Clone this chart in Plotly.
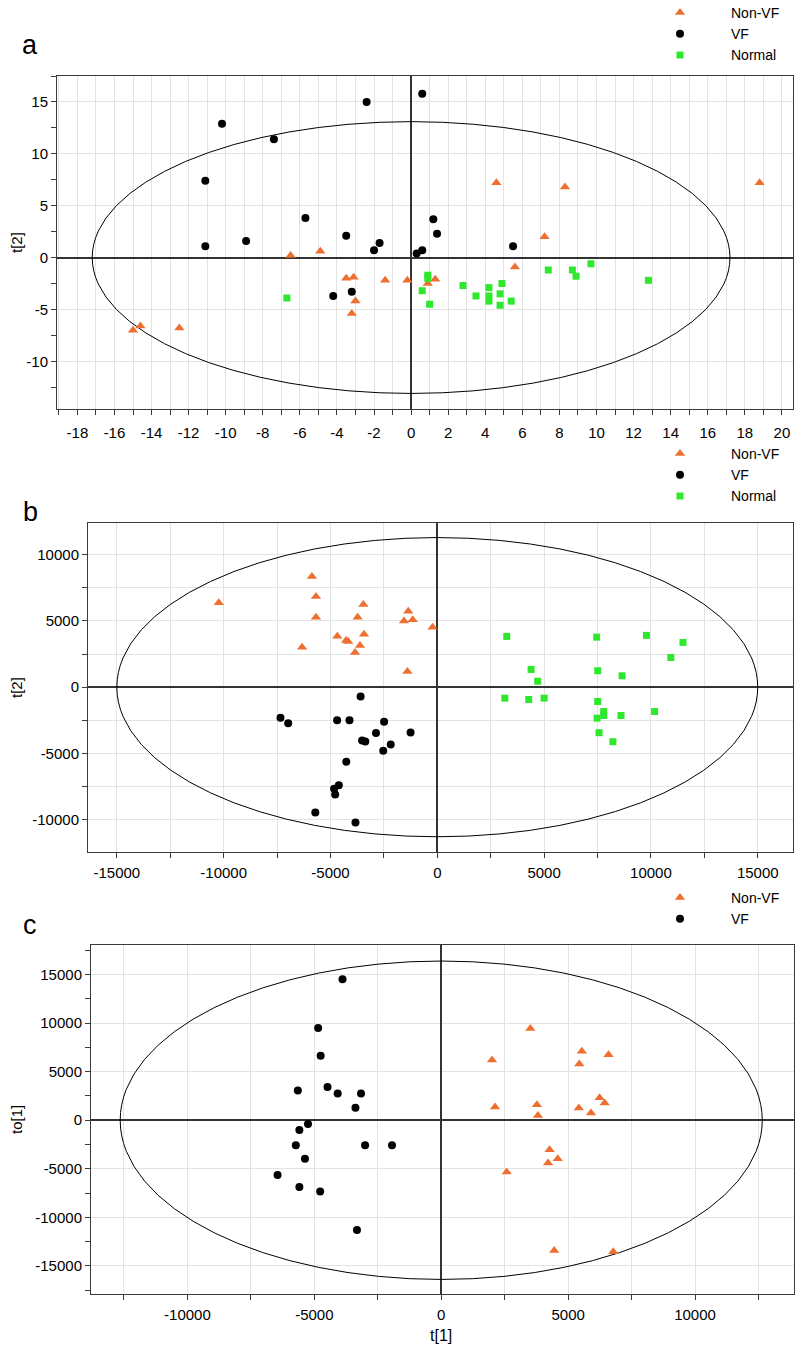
import plotly.graph_objects as go

# ---- panel a (PCA, 3 groups) ----
a_nonvf_x = [-6.5, -4.9, -3.5, -3.1, -1.4, -0.2, 4.6, 8.3, 18.8, 7.2, 5.6, 1.3, 0.9, -3.0, -3.2, -14.6, -15.0, -12.5]
a_nonvf_y = [0.2, 0.6, -2.0, -1.9, -2.2, -2.2, 7.2, 6.8, 7.2, 2.0, -0.9, -2.1, -2.5, -4.2, -5.4, -6.6, -7.0, -6.8]
a_vf_x = [-10.2, -2.4, 0.6, -7.4, -11.1, -5.7, -11.1, -8.9, -3.5, -2.0, -1.7, 0.3, 1.2, 1.4, 0.6, 5.5, -4.2, -3.2]
a_vf_y = [12.9, 15.0, 15.8, 11.4, 7.4, 3.8, 1.1, 1.6, 2.1, 0.7, 1.4, 0.4, 3.7, 2.3, 0.7, 1.1, -3.7, -3.3]
a_normal_x = [-6.7, 0.9, 0.9, 0.6, 1.0, 2.8, 3.5, 4.2, 4.2, 4.2, 4.8, 4.9, 4.8, 5.4, 7.4, 8.7, 8.9, 9.7, 12.8]
a_normal_y = [-3.9, -1.7, -2.0, -3.2, -4.5, -2.7, -3.7, -2.9, -3.7, -4.2, -3.5, -2.5, -4.6, -4.2, -1.2, -1.2, -1.8, -0.6, -2.2]
a_xticks = list(range(-18, 21, 2))
a_yticks = [-10, -5, 0, 5, 10, 15]

# ---- panel b (PLS-DA, 3 groups) ----
b_nonvf_x = [-10230, -5870, -5680, -5680, -6330, -4680, -4270, -4170, -3730, -3460, -3430, -3620, -3850, -1360, -1560, -1150, -1400, -220]
b_nonvf_y = [6380, 8360, 6850, 5290, 3020, 3850, 3530, 3450, 5290, 6250, 4000, 3150, 2620, 5740, 4990, 5090, 1190, 4530]
b_vf_x = [-7340, -6980, -4690, -4110, -2490, -2870, -3520, -3370, -1250, -2180, -2530, -4260, -4610, -4830, -4780, -5710, -3830, -3590]
b_vf_y = [-2310, -2720, -2490, -2490, -2610, -3470, -4030, -4100, -3420, -4330, -4800, -5630, -7400, -7670, -8100, -9460, -10220, -700]
b_normal_x = [3250, 7460, 9790, 11500, 10930, 4390, 4700, 7510, 8650, 3160, 4280, 5000, 7510, 7790, 7790, 7480, 8600, 10170, 7570, 8220]
b_normal_y = [3830, 3780, 3910, 3380, 2240, 1340, 450, 1240, 860, -830, -930, -830, -1080, -1840, -2140, -2340, -2140, -1840, -3440, -4120]
b_ticks = [-15000, -10000, -5000, 0, 5000, 10000, 15000]
b_yticks = [-10000, -5000, 0, 5000, 10000]

# ---- panel c (OPLS-DA, 2 groups) ----
c_nonvf_x = [3510, 5540, 6590, 2000, 5440, 2120, 3770, 3810, 5420, 6240, 6440, 5900, 4270, 4590, 4210, 2580, 4450, 6780]
c_nonvf_y = [9440, 7100, 6740, 6200, 5780, 1360, 1600, 490, 1260, 2320, 1770, 740, -3040, -3960, -4400, -5330, -13430, -13560]
c_vf_x = [-3890, -4850, -4750, -5650, -4480, -4080, -3160, -3380, -5250, -5590, -5730, -3000, -1940, -5370, -6450, -5590, -4770, -3320]
c_vf_y = [14530, 9490, 6640, 3070, 3420, 2760, 2760, 1290, -390, -1010, -2590, -2590, -2590, -3960, -5640, -6870, -7330, -11300]
c_xticks = [-10000, -5000, 0, 5000, 10000]
c_yticks = [-15000, -10000, -5000, 0, 5000, 10000, 15000]

ORANGE = "#ee7030"
GREEN = "#2ee82e"
FONT = "Liberation Sans, Arial, sans-serif"

fig = go.Figure()


def add_group(x, y, name, xa, ya, leg, symbol, color, size):
    fig.add_trace(go.Scatter(
        x=x, y=y, mode="markers", name=name, xaxis=xa, yaxis=ya, legend=leg,
        marker=dict(symbol=symbol, color=color, size=size, line=dict(width=0)),
    ))


add_group(a_nonvf_x, a_nonvf_y, "Non-VF", "x", "y", "legend", "triangle-up", ORANGE, 9)
add_group(a_vf_x, a_vf_y, "VF", "x", "y", "legend", "circle", "black", 8)
add_group(a_normal_x, a_normal_y, "Normal", "x", "y", "legend", "square", GREEN, 7)

add_group(b_nonvf_x, b_nonvf_y, "Non-VF", "x2", "y2", "legend2", "triangle-up", ORANGE, 9)
add_group(b_vf_x, b_vf_y, "VF", "x2", "y2", "legend2", "circle", "black", 8)
add_group(b_normal_x, b_normal_y, "Normal", "x2", "y2", "legend2", "square", GREEN, 7)

add_group(c_nonvf_x, c_nonvf_y, "Non-VF", "x3", "y3", "legend3", "triangle-up", ORANGE, 9)
add_group(c_vf_x, c_vf_y, "VF", "x3", "y3", "legend3", "circle", "black", 8)


def axis(domain, rng, ticks, anchor, minor_dtick, minor_grid, standoff=0):
    return dict(
        domain=domain, range=rng, anchor=anchor, automargin=False,
        tickmode="array", tickvals=ticks, ticktext=[str(t) for t in ticks],
        showline=True, mirror=True, linecolor="#3a3a3a", linewidth=1,
        ticks="outside", ticklen=5, tickcolor="#3a3a3a", ticklabelstandoff=standoff,
        showgrid=True, gridcolor="#e3e3e3", gridwidth=1,
        zeroline=True, zerolinecolor="#333333", zerolinewidth=1.5,
        minor=dict(tickmode="linear", tick0=0, dtick=minor_dtick, ticks="outside",
                   ticklen=5, tickcolor="#3a3a3a", showgrid=minor_grid,
                   gridcolor="#e3e3e3"),
        tickfont=dict(family=FONT, size=15, color="black"),
        fixedrange=True,
    )


H = 1354.0
W = 800.0

fig.update_layout(
    xaxis=axis([57 / W, 793 / W], [-19.1, 20.6], a_xticks, "y", 1, True, 5),
    yaxis=axis([1 - 409 / H, 1 - 76 / H], [-14.6, 17.5], a_yticks, "x", 2.5, False),
    xaxis2=axis([88 / W, 793 / W], [-16350, 16650], b_ticks, "y2", 2500, True, 2),
    yaxis2=axis([1 - 852 / H, 1 - 523 / H], [-12450, 12400], b_yticks, "x2", 2500, True),
    xaxis3=axis([91 / W, 794 / W], [-13800, 13900], c_xticks, "y3", 2500, True, 2),
    yaxis3=axis([1 - 1294 / H, 1 - 945 / H], [-17900, 18050], c_yticks, "x3", 2500, False),
)

for leg, ytop in (("legend", -3), ("legend2", 438), ("legend3", 882)):
    fig.layout[leg] = dict(
        x=629 / W, y=1 - ytop / H, xanchor="left", yanchor="top",
        font=dict(family=FONT, size=14, color="black"),
        bgcolor="rgba(0,0,0,0)", borderwidth=0, tracegroupgap=0, itemwidth=92,
    )

# confidence ellipses (Hotelling T2)
for xr, yr, ax, ay in ((17.2, 13.1, "x", "y"), (15000, 11300, "x2", "y2"), (12650, 16400, "x3", "y3")):
    fig.add_shape(type="circle", xref=ax, yref=ay, x0=-xr, x1=xr, y0=-yr, y1=yr,
                  line=dict(color="black", width=1), layer="between")

ann = []
for txt, yy in (("a", 45), ("b", 512), ("c", 925)):
    ann.append(dict(text=txt, x=30 / W, y=1 - yy / H, xanchor="center", yanchor="middle",
                    xref="paper", yref="paper", showarrow=False,
                    font=dict(family=FONT, size=27, color="black")))
for txt, yy in (("t[2]", 243), ("t[2]", 688), ("to[1]", 1120)):
    ann.append(dict(text=txt, x=16 / W, y=1 - yy / H, xanchor="center", yanchor="middle",
                    xref="paper", yref="paper", showarrow=False, textangle=-90,
                    font=dict(family=FONT, size=15, color="black")))
ann.append(dict(text="t[1]", x=441 / W, y=1 - 1335 / H, xanchor="center", yanchor="middle",
                xref="paper", yref="paper", showarrow=False,
                font=dict(family=FONT, size=16, color="black")))

fig.update_layout(
    width=800, height=1354,
    margin=dict(l=0, r=0, t=0, b=0, autoexpand=False),
    paper_bgcolor="white", plot_bgcolor="white",
    annotations=ann,
    font=dict(family=FONT),
)

fig.write_html("out.html", config={"displayModeBar": False},
               post_script="document.body.style.margin='0';document.body.style.overflow='hidden';")
